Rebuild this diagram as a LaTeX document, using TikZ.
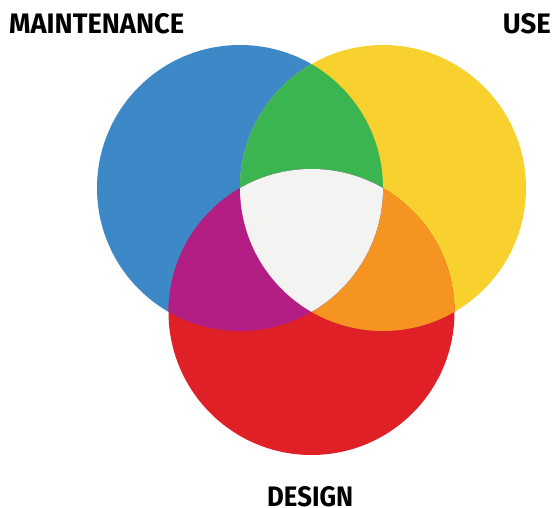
\documentclass[tikz,border=0pt]{standalone}
\usepackage{fontspec}
\usepackage{graphicx}
\setmainfont{Fira Sans}
\definecolor{cblue}{HTML}{3D88C7}
\definecolor{cyellow}{HTML}{F8D12F}
\definecolor{cred}{HTML}{E02027}
\definecolor{cgreen}{HTML}{3AB54F}
\definecolor{cpurple}{HTML}{B21E84}
\definecolor{corange}{HTML}{F59420}
\definecolor{cwhite}{HTML}{F3F3F1}
\begin{document}
\begin{tikzpicture}[x=1pt,y=-1pt,
  label/.style={inner sep=0pt, text=black, font=\bfseries}]
\useasboundingbox (0,0) rectangle (552,508);
\def\R{143}
\coordinate (B) at (240,188);
\coordinate (Y) at (383,188);
\coordinate (D) at (311.5,312);
% three circles
\fill[cblue] (B) circle (\R);
\fill[cyellow] (Y) circle (\R);
\fill[cred] (D) circle (\R);
% pairwise overlaps
\begin{scope}
  \clip (Y) circle (\R);
  \fill[corange] (D) circle (\R);
\end{scope}
\begin{scope}
  \clip (B) circle (\R);
  \fill[cgreen] (Y) circle (\R);
  \fill[cpurple] (D) circle (\R);
  % triple overlap
  \clip (Y) circle (\R);
  \fill[cwhite] (D) circle (\R);
\end{scope}
% labels
\node[label, anchor=north west] (maint) at (9,13) {\resizebox{175pt}{20pt}{MAINTENANCE}};
\node[label, anchor=north east] (use) at (551,13) {\resizebox{48pt}{20pt}{USE}};
\node[label, anchor=north west] (design) at (267,486.5) {\resizebox{86pt}{20pt}{DESIGN}};
\end{tikzpicture}
\end{document}
